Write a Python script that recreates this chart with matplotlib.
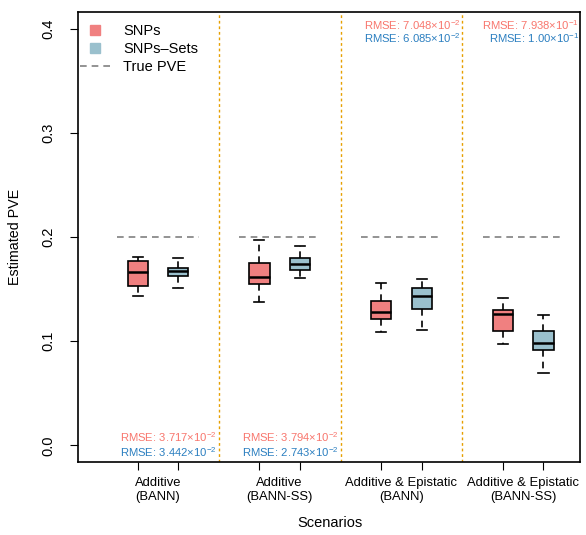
"""
Boxplots of estimated PVE per scenario, SNPs vs SNP-sets, with RMSE notes.
"""
import matplotlib
matplotlib.use("Agg")
import matplotlib.pyplot as plt
from matplotlib.lines import Line2D

plt.rcParams["font.family"] = ["Liberation Sans", "DejaVu Sans"]
plt.rcParams["mathtext.fontset"] = "custom"
plt.rcParams["mathtext.rm"] = "Liberation Sans"
plt.rcParams["mathtext.it"] = "Liberation Sans:italic"

# --- data ---
scenarios = ["Additive\n(BANN)", "Additive\n(BANN-SS)",
             "Additive & Epistatic\n(BANN)", "Additive & Epistatic\n(BANN-SS)"]
true_pve = [0.2, 0.2, 0.2, 0.2]

# whisker low, q1, median, q3, whisker high
snp_lo  = [0.143, 0.1375, 0.109, 0.097]
snp_q1  = [0.153, 0.155, 0.121, 0.110]
snp_med = [0.166, 0.162, 0.128, 0.126]
snp_q3  = [0.177, 0.175, 0.139, 0.130]
snp_hi  = [0.181, 0.197, 0.156, 0.141]

set_lo  = [0.151, 0.161, 0.111, 0.069]
set_q1  = [0.163, 0.168, 0.131, 0.092]
set_med = [0.167, 0.174, 0.143, 0.098]
set_q3  = [0.170, 0.180, 0.151, 0.110]
set_hi  = [0.180, 0.191, 0.160, 0.125]

rmse_snp = [("3.717", "-2"), ("3.794", "-2"), ("7.048", "-2"), ("7.938", "-1")]
rmse_set = [("3.442", "-2"), ("2.743", "-2"), ("6.085", "-2"), ("1.00", "-1")]

# --- colors ---
C_SNP = "#F08080"
C_SET = "#9AC0CD"
C_RMSE_SNP = "#F8766D"
C_RMSE_SET = "#2B7FC0"
C_DIV = "#E69F00"
C_TRUE = "#808080"


def stats(lo, q1, med, q3, hi):
    return [dict(whislo=a, q1=b, med=c, q3=d, whishi=e, fliers=[])
            for a, b, c, d, e in zip(lo, q1, med, q3, hi)]


fig = plt.figure(figsize=(5.86, 5.35), dpi=100)
ax = fig.add_axes([0.1331, 0.1364, 0.8567, 0.8412])

pos_snp = [1 + 3 * i for i in range(4)]
pos_set = [2 + 3 * i for i in range(4)]

common = dict(widths=0.5, patch_artist=True, showfliers=False,
              whiskerprops=dict(color="black", lw=1.2, linestyle=(0, (4, 3))),
              capprops=dict(color="black", lw=1.2),
              medianprops=dict(color="black", lw=1.8),
              boxprops=dict(edgecolor="black", lw=1.2))

b1 = ax.bxp(stats(snp_lo, snp_q1, snp_med, snp_q3, snp_hi), positions=pos_snp, **common)
b2 = ax.bxp(stats(set_lo, set_q1, set_med, set_q3, set_hi), positions=pos_set, **common)
for p in b1["boxes"]:
    p.set_facecolor(C_SNP)
for p in b2["boxes"]:
    p.set_facecolor(C_SET)

# true PVE dashed segments
for i, t in enumerate(true_pve):
    ax.plot([pos_snp[i] - 0.5, pos_set[i] + 0.5], [t, t], color=C_TRUE,
            lw=1.2, linestyle=(0, (4, 3)), zorder=1)

# group dividers
for i in range(1, 4):
    ax.axvline(3 * i, color=C_DIV, lw=1.0, linestyle=(0, (2, 2)), zorder=0)

# RMSE annotations
fs_r = 8.1
for i in range(4):
    xr = min(3 * (i + 1) - 0.05, 11.88)
    if i < 2:
        y1, y2 = 0.0075, -0.0065
    else:
        y1, y2 = 0.4035, 0.3905
    ax.text(xr, y1, "RMSE: %s×$10^{%s}$" % rmse_snp[i], color=C_RMSE_SNP,
            ha="right", va="center", fontsize=fs_r)
    ax.text(xr, y2, "RMSE: %s×$10^{%s}$" % rmse_set[i], color=C_RMSE_SET,
            ha="right", va="center", fontsize=fs_r)

ax.set_xlim(-0.47, 11.9)
ax.set_ylim(-0.016, 0.416)
ax.set_yticks([0.0, 0.1, 0.2, 0.3, 0.4])
ax.set_yticklabels(["0.0", "0.1", "0.2", "0.3", "0.4"], rotation=90, va="center")
ax.set_xticks(pos_snp + pos_set)
ax.set_xticklabels([])
ax.tick_params(axis="both", direction="out", length=6, width=0.8, labelsize=10.5)
ax.tick_params(axis="y", pad=10)
for i, s in enumerate(scenarios):
    xf = ax.transData.transform((1.5 + 3 * i, 0))[0] / fig.bbox.width
    fig.text(xf, 0.109, s, ha="center", va="top", fontsize=9.4,
             linespacing=1.25)

for sp in ax.spines.values():
    sp.set_linewidth(1.2)

ax.set_ylabel("Estimated PVE", fontsize=10.3, labelpad=14)
fig.text(330 / 586, 1 - 523 / 535, "Scenarios", ha="center", va="center",
         fontsize=10.5)

handles = [
    Line2D([], [], marker="s", linestyle="none", color=C_SNP, markersize=6.5),
    Line2D([], [], marker="s", linestyle="none", color=C_SET, markersize=6.5),
    Line2D([], [], color=C_TRUE, lw=1.2, linestyle=(0, (4, 3))),
]
ax.legend(handles, ["SNPs", "SNPs–Sets", "True PVE"], loc="upper left",
          frameon=False, fontsize=10.5, handlelength=2.0, handletextpad=0.95,
          labelspacing=0.25, borderaxespad=0.45, bbox_to_anchor=(-0.02, 1.0))

fig.savefig("out.png", dpi=100)
